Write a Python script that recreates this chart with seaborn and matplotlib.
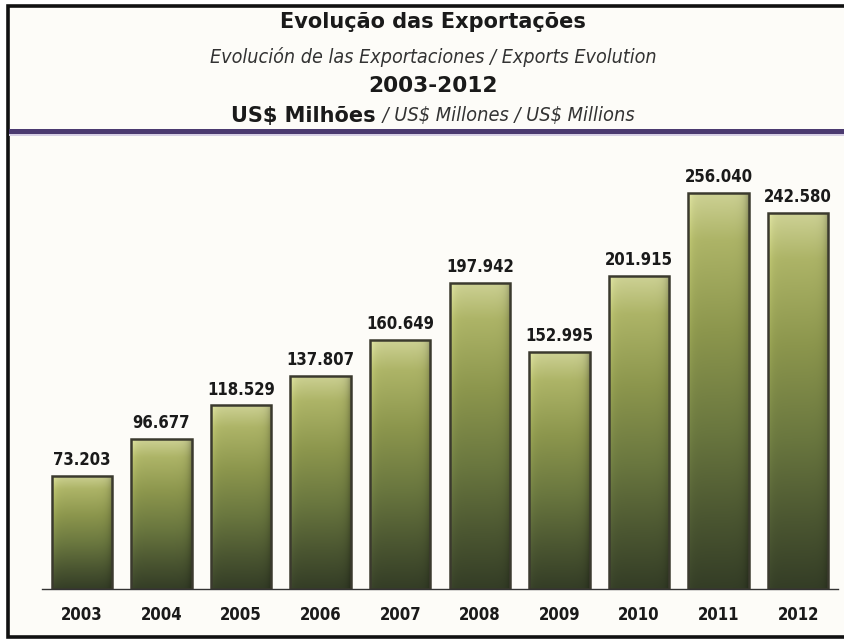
import numpy as np
import pandas as pd
import matplotlib
matplotlib.use("Agg")
import matplotlib.pyplot as plt
from matplotlib.colors import LinearSegmentedColormap
from matplotlib.patches import Rectangle
import seaborn as sns

# Export values, US$ millions
years = ["2003", "2004", "2005", "2006", "2007", "2008", "2009", "2010", "2011", "2012"]
exports = [73203, 96677, 118529, 137807, 160649, 197942, 152995, 201915, 256040, 242580]

title_pt = "Evolução das Exportações"
title_es_en = "Evolución de las Exportaciones / Exports Evolution"
period = "2003-2012"
unit_pt = "US$ Milhões"
unit_es_en = " / US$ Millones / US$ Millions"

df = pd.DataFrame({"year": years, "value": exports})

sns.set_theme(style="white")
plt.rcParams["font.family"] = ["DejaVu Sans"]

fig = plt.figure(figsize=(8.44, 6.4), dpi=100, facecolor="white")
W, H = 844, 640

# framed panel
fig.patches.append(Rectangle((8 / W, 3 / H), 1.2, (634 - 3) / H, transform=fig.transFigure,
                             facecolor="#fdfcf8", edgecolor="#111111", linewidth=2.6, zorder=-2))
# purple rule under the header
fig.patches.append(Rectangle((9 / W, (640 - 134) / H), 1.0, 5 / H, transform=fig.transFigure,
                             facecolor="#4b3a70", edgecolor="none", zorder=-1))
fig.patches.append(Rectangle((9 / W, (640 - 136) / H), 1.0, 2 / H, transform=fig.transFigure,
                             facecolor="#d6cfe4", edgecolor="none", zorder=-1))

def fx(px):
    return px / W

def fy(py):
    return 1 - py / H

fig.text(fx(433), fy(22), title_pt, ha="center", va="center", fontsize=15,
         fontweight="bold", color="#1a1a1a", parse_math=False)
fig.text(fx(433), fy(57), title_es_en, ha="center", va="center", fontsize=14.1,
         fontstyle="italic", fontstretch="condensed", color="#333333", parse_math=False)
fig.text(fx(433), fy(86), period, ha="center", va="center", fontsize=15.6,
         fontweight="bold", color="#1a1a1a", parse_math=False)
fig.text(fx(376), fy(116), unit_pt, ha="right", va="center", fontsize=15,
         fontweight="bold", color="#1a1a1a", parse_math=False)
fig.text(fx(377), fy(116), unit_es_en, ha="left", va="center", fontsize=14.3,
         fontstyle="italic", fontstretch="condensed", color="#333333", parse_math=False)

ax = fig.add_axes([42 / W, 51 / H, (838 - 42) / W, (589 - 140) / H], zorder=3)
ax.set_facecolor("none")
ax.patch.set_visible(False)

sns.barplot(data=df, x="year", y="value", ax=ax, width=0.76, color="#8a944c",
            edgecolor="#3b3a2e", linewidth=1.8, saturation=1)

cmap = LinearSegmentedColormap.from_list(
    "olive", [(0.0, "#cdd194"), (0.12, "#adb467"), (0.35, "#8c964d"),
              (0.6, "#6a773f"), (0.82, "#4b5631"), (1.0, "#343d26")])

grad_v = np.linspace(0, 1, 256)[:, None]
xs = np.linspace(0, 1, 64)[None, :]
shade = 1 + 0.15 * np.exp(-xs / 0.06) - 0.30 * np.exp(-(1 - xs) / 0.06)

for patch in list(ax.patches):
    x0, y0 = patch.get_x(), patch.get_y()
    w, h = patch.get_width(), patch.get_height()
    rgb = cmap(np.repeat(grad_v, 64, axis=1))[..., :3]
    rgb = np.clip(rgb * shade[..., None], 0, 1)
    img = ax.imshow(rgb, extent=(x0, x0 + w, y0, y0 + h), origin="upper",
                    aspect="auto", zorder=patch.get_zorder() + 0.1, interpolation="bilinear")
    img.set_clip_path(patch)
    patch.set_facecolor("none")
    patch.set_zorder(patch.get_zorder() + 0.2)
    ax.annotate(f"{int(h):,}".replace(",", "."), (x0 + w / 2, y0 + h),
                xytext=(0, 5), textcoords="offset points", ha="center", va="bottom",
                fontsize=12, fontweight="bold", fontstretch="condensed", color="#1a1a1a")

ax.set_aspect("auto")
ax.set_xlim(-0.5, 9.5)
ax.set_ylim(0, 290000)

for s in ["top", "right", "left"]:
    ax.spines[s].set_visible(False)
ax.spines["bottom"].set_color("#333333")
ax.spines["bottom"].set_linewidth(1.0)
ax.set_yticks([])
ax.set_xlabel("")
ax.set_ylabel("")
ax.tick_params(axis="x", length=0, pad=12)
for lab in ax.get_xticklabels():
    lab.set_fontsize(12)
    lab.set_fontweight("bold")
    lab.set_fontstretch("condensed")
    lab.set_color("#1a1a1a")

fig.savefig("out.png", dpi=100, facecolor="white")
